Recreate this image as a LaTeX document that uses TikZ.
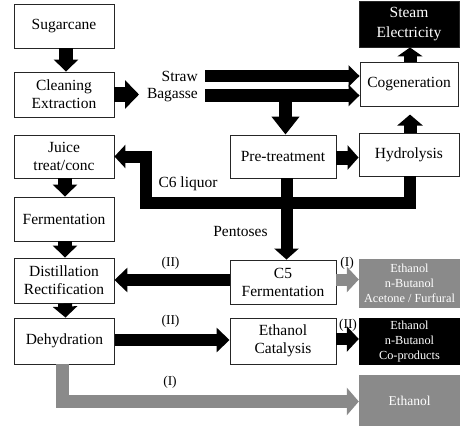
\documentclass[tikz,border=0pt]{standalone}
\usepackage{fontspec}
\setmainfont{Liberation Serif}
\newfontfamily\lserif{Liberation Serif}
\usetikzlibrary{arrows.meta}
\definecolor{gr}{RGB}{138,138,138}
\begin{document}
\begin{tikzpicture}[x=1pt,y=-1pt,
  box/.style={draw=black!85, line width=0.9pt, fill=white, minimum width=100pt, inner sep=0pt, align=center, font=\lserif\fontsize{15.5}{18}\selectfont},
  dbox/.style={box, fill=black, text=white, font=\lserif\fontsize{15.5}{20}\selectfont},
  gbox/.style={draw=none, fill=gr, text=white, minimum width=101pt, inner sep=0pt, align=center, font=\lserif\fontsize{12.3}{15}\selectfont},
  bbox/.style={gbox, fill=black},
  arr/.style={line width=13pt, line join=miter, -{Triangle[width=25pt,length=11pt]}},
  garr/.style={arr, draw=gr, -{Triangle[width=27pt,length=12pt]}},
  lbl/.style={font=\lserif\fontsize{15.5}{18}\selectfont, inner sep=0pt},
  rom/.style={font=\lserif\fontsize{13.5}{16}\selectfont, inner sep=0pt},
]
\useasboundingbox (0,0) rectangle (474,436);
\fill[white] (0,0) rectangle (474,436);

% left column
\node[box, minimum height=44pt] (sug) at (64,26) {Sugarcane};
\node[box, minimum height=45pt] (clean) at (64,94.5) {Cleaning\\Extraction};
\node[box, minimum height=43pt] (juice) at (64,156.5) {Juice\\treat/conc};
\node[box, minimum height=44pt] (ferm) at (64,219) {Fermentation};
\node[box, minimum height=45pt] (dist) at (64,280.5) {Distillation\\Rectification};
\node[box, minimum height=46pt] (dehy) at (64.5,341) {Dehydration};

% middle column
\node[box, minimum width=106pt, minimum height=43pt] (pre) at (283,156.5) {Pre-treatment};
\node[box, minimum width=106pt, minimum height=44pt] (c5) at (283,282) {C5\\Fermentation};
\node[box, minimum width=106pt, minimum height=46pt] (cat) at (283,341) {Ethanol\\Catalysis};

% right column
\node[dbox, minimum height=46pt] (steam) at (409,24) {Steam\\Electricity};
\node[box, minimum width=98pt, minimum height=44pt] (cogen) at (409,84) {Cogeneration};
\node[box, minimum height=43pt] (hydro) at (409,154.5) {Hydrolysis};
\node[gbox, minimum height=49pt] (g1) at (409.5,283.5) {Ethanol\\n-Butanol\\Acetone / Furfural};
\node[bbox, minimum height=47pt] (b2) at (409.5,341.5) {Ethanol\\n-Butanol\\Co-products};
\node[gbox, minimum height=51pt, font=\lserif\fontsize{13.5}{16}\selectfont] (g3) at (409.5,400.5) {Ethanol};

% labels
\node[lbl, anchor=east] (straw) at (198,76) {Straw};
\node[lbl, anchor=east] (bag) at (198,95.5) {Bagasse};
\node[lbl] (c6l) at (188,184) {C6 liquor};
\node[lbl] (pent) at (240.5,231) {Pentoses};
\node[rom] (l1) at (170.5,263) {(II)};
\node[rom] (l2) at (170.5,321) {(II)};
\node[rom] (l3) at (170,382) {(I)};
\node[rom] (l4) at (347,263) {(I)};
\node[rom] (l5) at (348,325) {(II)};

\coordinate (sw) at (205,76);
\coordinate (bw) at (205,95.5);
\coordinate (bt) at (139,94.5);
\coordinate (c6b) at (145.5,202.5);

% arrows left column
\draw[arr, line width=14pt, -{Triangle[width=24pt,length=12pt]}] ([xshift=2pt]sug.south) -- ([xshift=2pt]clean.north);
\draw[arr, line width=14pt, -{Triangle[width=24pt,length=12pt]}] ([xshift=1pt]juice.south) -- ([xshift=1pt]ferm.north);
\draw[arr, line width=14pt, -{Triangle[width=24pt,length=12pt]}] ([xshift=1pt]ferm.south) -- ([xshift=1pt]dist.north);
\draw[arr, line width=14pt, -{Triangle[width=24pt,length=11pt]}] ([xshift=1pt]dist.south) -- ([xshift=1pt]dehy.north);
\draw[arr, line width=15pt, -{Triangle[width=28pt,length=14pt]}] (clean.east) -- (bt);

% straw and bagasse
\draw[arr, line width=12pt, -{Triangle[width=21pt,length=11pt]}] (sw) -- (sw -| cogen.west);
\draw[arr, line width=12pt, -{Triangle[width=21pt,length=11pt]}] (bw) -- (bw -| cogen.west);
\draw[arr, -{Triangle[width=27pt,length=18pt]}] ([xshift=2.5pt]pre.north |- bw) -- ([xshift=2.5pt]pre.north);

% right side
\draw[arr, line width=14pt, -{Triangle[width=24pt,length=11pt]}] ([yshift=-1pt]pre.east) -- ([yshift=-1pt]pre.east -| hydro.west);
\draw[arr] ([xshift=1pt]hydro.north) -- ++(0,-18);
\draw[arr, -{Triangle[width=25pt,length=9pt]}] ([xshift=1pt]cogen.north) -- ([xshift=1pt]steam.south);

% C6 liquor
\draw[arr, line width=12pt, -{Triangle[width=23pt,length=11pt]}] ([xshift=0.5pt]hydro.south) -- ([xshift=0.5pt]hydro.south |- c6b) -- (c6b) -- (c6b |- juice.east) -- (juice.east);

% pentoses
\draw[arr, line width=12pt, -{Triangle[width=24pt,length=11pt]}] ([xshift=3.5pt]pre.south) -- ([xshift=3.5pt]c5.north);

% lower arrows
\draw[arr, line width=12pt, -{Triangle[width=24pt,length=13pt]}] ([yshift=2pt]c5.west) -- ([yshift=2pt]c5.west -| dist.east);
\draw[arr, line width=12pt, -{Triangle[width=24pt,length=13pt]}] ([yshift=1pt]dehy.east) -- ([yshift=1pt]dehy.east -| cat.west);
\draw[garr] ([xshift=-2pt]dehy.south) |- ([yshift=-1pt]g3.west);
\draw[garr, line width=12pt, -{Triangle[width=25pt,length=12pt]}] ([yshift=2.5pt]c5.east) -- ([yshift=2.5pt]c5.east -| g1.west);
\draw[arr, line width=12pt, -{Triangle[width=25pt,length=12pt]}] ([yshift=2pt]cat.east) -- ([yshift=2pt]cat.east -| b2.west);
\end{tikzpicture}
\end{document}
